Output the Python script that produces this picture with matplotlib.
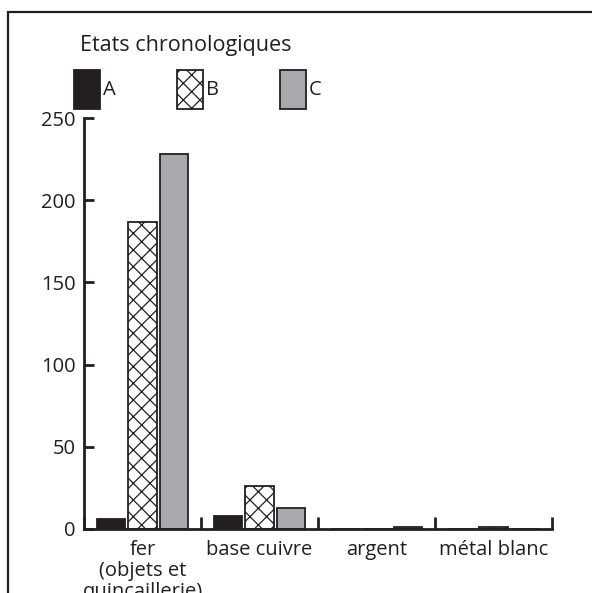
import matplotlib
matplotlib.use("Agg")
import matplotlib.pyplot as plt
from matplotlib.patches import Rectangle
import numpy as np

categories = ["fer\n(objets et\nquincaillerie)", "base cuivre", "argent", "métal blanc"]
series = ["A", "B", "C"]
values_A = [6, 8, 0, 0]
values_B = [187, 26, 0, 1]
values_C = [228, 13, 1, 0]
yticks = [0, 50, 100, 150, 200, 250]
legend_title = "Etats chronologiques"

plt.rcParams['font.family'] = ['Open Sans', 'DejaVu Sans']
plt.rcParams['hatch.linewidth'] = 0.9
plt.rcParams['hatch.color'] = '#231f20'
FS = 14.5
INK = '#231f20'

W, H = 592, 593
fig = plt.figure(figsize=(W / 100, H / 100), dpi=100)

def fx(px):
    return px / W

def fy(py):
    return 1 - py / H

# outer frame
fig.patches.append(Rectangle((fx(8), -0.01), 1.1, fy(12) + 0.01, transform=fig.transFigure,
                             fill=False, edgecolor=INK, linewidth=1.6, clip_on=False))

ax = fig.add_axes([fx(84), fy(529), fx(552) - fx(84), fy(118) - fy(529)])

x = np.arange(len(categories))
w = 0.245
off = 0.27
colors = [INK, 'white', '#a7a9ac']
hatches = [None, 'xx', None]
vals = [values_A, values_B, values_C]
for i, (s, v) in enumerate(zip(series, vals)):
    ax.bar(x + (i - 1) * off, v, width=w, linewidth=1.3, label=s, color=colors[i],
           edgecolor=INK, hatch=hatches[i])

ax.set_xlim(-0.5, len(categories) - 0.5)
ax.set_ylim(0, 250)
ax.set_yticks(yticks)
ax.set_yticklabels([str(t) for t in yticks], fontsize=FS, color=INK)
ax.tick_params(axis='y', direction='in', length=7, width=2, color=INK, pad=6)

ax.set_xticks(np.arange(len(categories) + 1) - 0.5)
ax.set_xticklabels([])
ax.tick_params(axis='x', direction='in', length=9, width=2, color=INK)
for xi, c in zip(x, categories):
    ax.text(xi, -6.5, c, ha='center', va='top', fontsize=FS, transform=ax.transData,
            linespacing=1.08, clip_on=False, color=INK)

for sp in ['top', 'right']:
    ax.spines[sp].set_visible(False)
for sp in ['left', 'bottom']:
    ax.spines[sp].set_linewidth(2)
    ax.spines[sp].set_color(INK)

# legend (drawn manually to match the reference layout)
fig.text(fx(80), fy(45), legend_title, fontsize=15.5, color=INK, ha='left', va='center')
leg_x = [74, 177, 280]
for i, s in enumerate(series):
    fig.patches.append(Rectangle((fx(leg_x[i]), fy(109)), fx(26), fy(70) - fy(109),
                                 transform=fig.transFigure, facecolor=colors[i], edgecolor=INK,
                                 hatch=hatches[i], linewidth=1.3))
    fig.text(fx(leg_x[i] + 29), fy(90), s, fontsize=FS, color=INK, ha='left', va='center')

fig.savefig("out.png", dpi=100)
